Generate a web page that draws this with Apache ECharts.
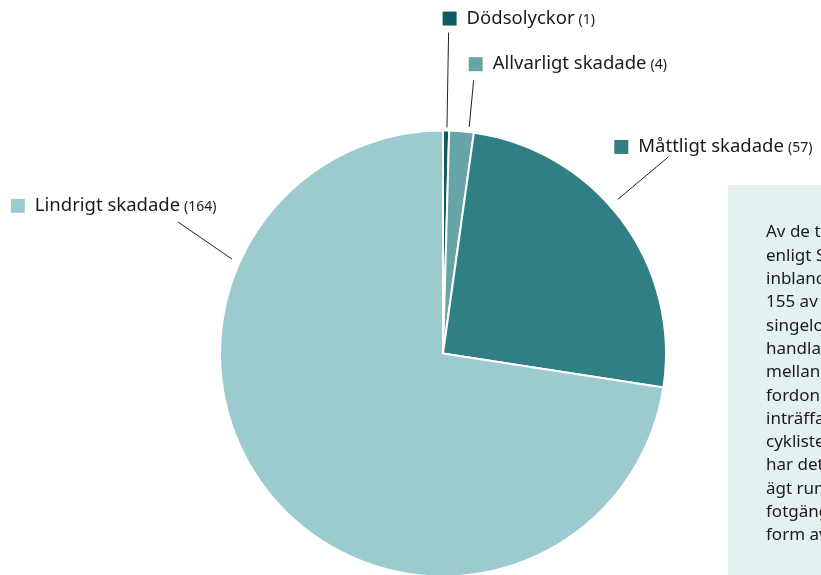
<!DOCTYPE html>
<html lang="sv">
<head>
    <meta charset="UTF-8">
    <title>Skadade cyklister</title>
    <script src="https://cdn.jsdelivr.net/npm/echarts@6/dist/echarts.min.js"></script>
    <style>
        body{ margin: 0; background: #fff; }
        #chart{ width: 821px; height: 575px; }
    </style>
</head>
<body>
    <div id="chart"></div>
    <script>
        var categories = ['Dödsolyckor', 'Allvarligt skadade', 'Måttligt skadade', 'Lindrigt skadade'];
        var counts = [1, 4, 57, 164];
        var colors = ['#0f5b60', '#67a4a7', '#307f85', '#9ccbcf'];

        var noteLines = [
            'Av de totalt 226 skadade',
            'enligt STRADA var samtliga',
            'inblandade i cykelolyckor.',
            '155 av dessa var',
            'singelolyckor. I 43 fall',
            'handlade det om kollision',
            'mellan cykel och motor-',
            'fordon och 12 olyckor',
            'inträffade mellan två',
            'cyklister. I ett fall',
            'har det en olycka',
            'ägt rum mellan cykel och',
            'fotgängare och 15 i',
            'form av annat.'
        ];

        // label line geometry: angles (deg, clockwise from top) and radii of the two ends,
        // plus label offset from the outer end
        var guides = [
            { a1: 1.0,   r1: 226, a2: 1.0,   r2: 321, dx: -6,   dy: -14 },
            { a1: 6.6,   r1: 228, a2: 6.4,   r2: 275, dx: -5,   dy: -16 },
            { a1: 48.6,  r1: 233, a2: 48.9,  r2: 299, dx: -54,  dy: -10 },
            { a1: 294.1, r1: 231, a2: 296.4, r2: 296, dx: -167, dy: -16 }
        ];

        var cx = 443, cy = 353.5, radius = 223;

        var seriesData = categories.map(function (name, i) {
            return { name: name, value: counts[i], itemStyle: { color: colors[i] } };
        });

        function polar(ang, r) {
            var a = ang * Math.PI / 180;
            return [cx + r * Math.sin(a), cy - r * Math.cos(a)];
        }

        var myChart = echarts.init(document.getElementById('chart'));
        var option = {
            animation: false,
            graphic: [
                {
                    type: 'rect',
                    z: 0,
                    shape: { x: 728, y: 185, width: 120, height: 400 },
                    style: { fill: '#e3f1f1' }
                },
                {
                    type: 'text',
                    z: 1,
                    left: 766,
                    top: 221,
                    style: {
                        text: noteLines.join('\n'),
                        fill: '#1a1a1a',
                        font: '17px "Noto Sans"',
                        lineHeight: 23.3
                    }
                }
            ],
            series: [
                {
                    type: 'pie',
                    center: [cx, cy],
                    radius: [0, radius],
                    startAngle: 90,
                    clockwise: true,
                    data: seriesData,
                    itemStyle: { borderColor: '#fff', borderWidth: 2 },
                    emphasis: { disabled: true },
                    label: {
                        show: true,
                        position: 'outside',
                        overflow: 'none',
                        formatter: function (p) {
                            return '{sq' + p.dataIndex + '|}{t|' + p.name + '}{n|(' + p.value + ')}';
                        },
                        rich: {
                            sq0: { width: 14, height: 14, backgroundColor: colors[0] },
                            sq1: { width: 14, height: 14, backgroundColor: colors[1] },
                            sq2: { width: 14, height: 14, backgroundColor: colors[2] },
                            sq3: { width: 14, height: 14, backgroundColor: colors[3] },
                            t: { fontFamily: 'Noto Sans', fontSize: 18.5, color: '#1a1a1a', padding: [0, 2, 0, 10] },
                            n: { fontFamily: 'Noto Sans', fontSize: 14, color: '#1a1a1a', padding: [2, 0, 0, 2] }
                        }
                    },
                    labelLine: {
                        show: true,
                        lineStyle: { color: '#222', width: 1 }
                    },
                    labelLayout: function (params) {
                        var g = guides[params.dataIndex];
                        var p1 = polar(g.a1, g.r1);
                        var p2 = polar(g.a2, g.r2);
                        return {
                            x: p2[0] + g.dx,
                            y: p2[1] + g.dy,
                            align: 'left',
                            verticalAlign: 'middle',
                            labelLinePoints: [p1, p2, p2]
                        };
                    }
                }
            ]
        };
        myChart.setOption(option);
    </script>
</body>
</html>
